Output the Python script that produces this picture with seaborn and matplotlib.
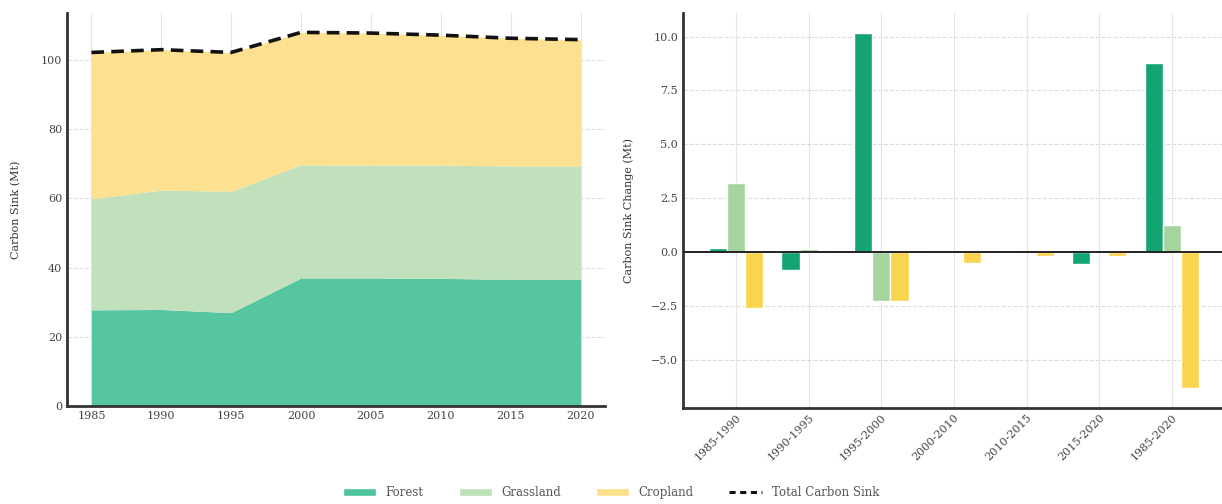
import matplotlib
matplotlib.use("Agg")
import matplotlib.pyplot as plt
from matplotlib.patches import Patch
from matplotlib.lines import Line2D
import numpy as np
import pandas as pd
import seaborn as sns

# Stock of carbon sink by land type (Mt)
years = [1985, 1990, 1995, 2000, 2005, 2010, 2015, 2020]
forest = [27.8, 27.9, 27.0, 37.0, 37.0, 36.9, 36.6, 36.6]
grassland = [32.1, 34.5, 35.1, 32.7, 32.6, 32.7, 32.8, 32.8]
cropland = [42.3, 40.6, 40.1, 38.3, 38.2, 37.6, 36.9, 36.5]
total = [102.2, 103.0, 102.2, 108.0, 107.8, 107.2, 106.3, 105.9]

# Change of carbon sink per period (Mt)
periods = ["1985-1990", "1990-1995", "1995-2000", "2000-2010",
           "2010-2015", "2015-2020", "1985-2020"]
forest_change = [0.18, -0.85, 10.15, 0.0, -0.05, -0.57, 8.8]
grassland_change = [3.2, 0.15, -2.27, 0.0, 0.0, 0.0, 1.25]
cropland_change = [-2.6, 0.0, -2.27, -0.5, -0.2, -0.2, -6.3]

land_types = ["Forest", "Grassland", "Cropland"]
area_colors = ["#4cc29d", "#bde0b8", "#fde08a"]
bar_colors = ["#13a471", "#a5d49f", "#f9d44e"]

sns.set_style("whitegrid")
plt.rcParams["font.family"] = ["DejaVu Serif"]
plt.rcParams["font.size"] = 8

fig = plt.figure(figsize=(12.22, 5.04), dpi=100)
ax1 = fig.add_axes([0.0548, 0.1944, 0.4403, 0.7798])
ax2 = fig.add_axes([0.5589, 0.1905, 0.4411, 0.7837])

# Left: stacked area of carbon sink stock
ax1.stackplot(years, forest, grassland, cropland, colors=area_colors,
              linewidth=0, alpha=0.95)
sns.lineplot(x=years, y=total, ax=ax1, color="#111111", linewidth=2.6,
             linestyle=(0, (3.5, 2)), legend=False)
ax1.set_xticks(years)
ax1.set_ylabel("Carbon Sink (Mt)", fontsize=8, color="#333333", labelpad=14)
ax1.set_ylim(0, 113.6)

# Right: grouped bars of changes
df = pd.DataFrame({
    "Period": periods * 3,
    "Type": np.repeat(land_types, len(periods)),
    "Change": forest_change + grassland_change + cropland_change,
})
sns.barplot(data=df, x="Period", y="Change", hue="Type", palette=bar_colors,
            width=0.75, ax=ax2, legend=False, saturation=1)
ax2.axhline(0, color="#222222", linewidth=1.4, zorder=5)
ax2.set_xlim(-0.73, 6.69)
ax2.set_ylim(-7.25, 11.1)
ax2.set_yticks([-5.0, -2.5, 0.0, 2.5, 5.0, 7.5, 10.0])
ax2.set_xlabel("")
ax2.set_ylabel("Carbon Sink Change (Mt)", fontsize=8, color="#333333",
               labelpad=12)
plt.setp(ax2.get_xticklabels(), rotation=45, ha="right",
         rotation_mode="anchor")

for ax in (ax1, ax2):
    for side in ("top", "right"):
        ax.spines[side].set_visible(False)
    for side in ("left", "bottom"):
        ax.spines[side].set_color("#333333")
        ax.spines[side].set_linewidth(2.0)
    ax.tick_params(direction="in", length=4, width=1, colors="#333333",
                   labelsize=8, labelcolor="#444444")
    ax.grid(True, color="#dddddd", linewidth=0.8, linestyle="--")
    ax.xaxis.grid(True, linestyle="-", color="#e4e4e4")
    ax.set_axisbelow(True)

handles = [Patch(facecolor=c, label=l) for c, l in zip(area_colors, land_types)]
handles.append(Line2D([], [], color="#111111", linewidth=2.2,
                      linestyle=(0, (2, 1.5)), label="Total Carbon Sink"))
fig.legend(handles=handles, loc="lower center", bbox_to_anchor=(0.5, -0.012),
           ncol=4, frameon=False, fontsize=8.5, labelcolor="#555555",
           handlelength=2.8, columnspacing=3.0)

fig.savefig("out.png", dpi=100)
